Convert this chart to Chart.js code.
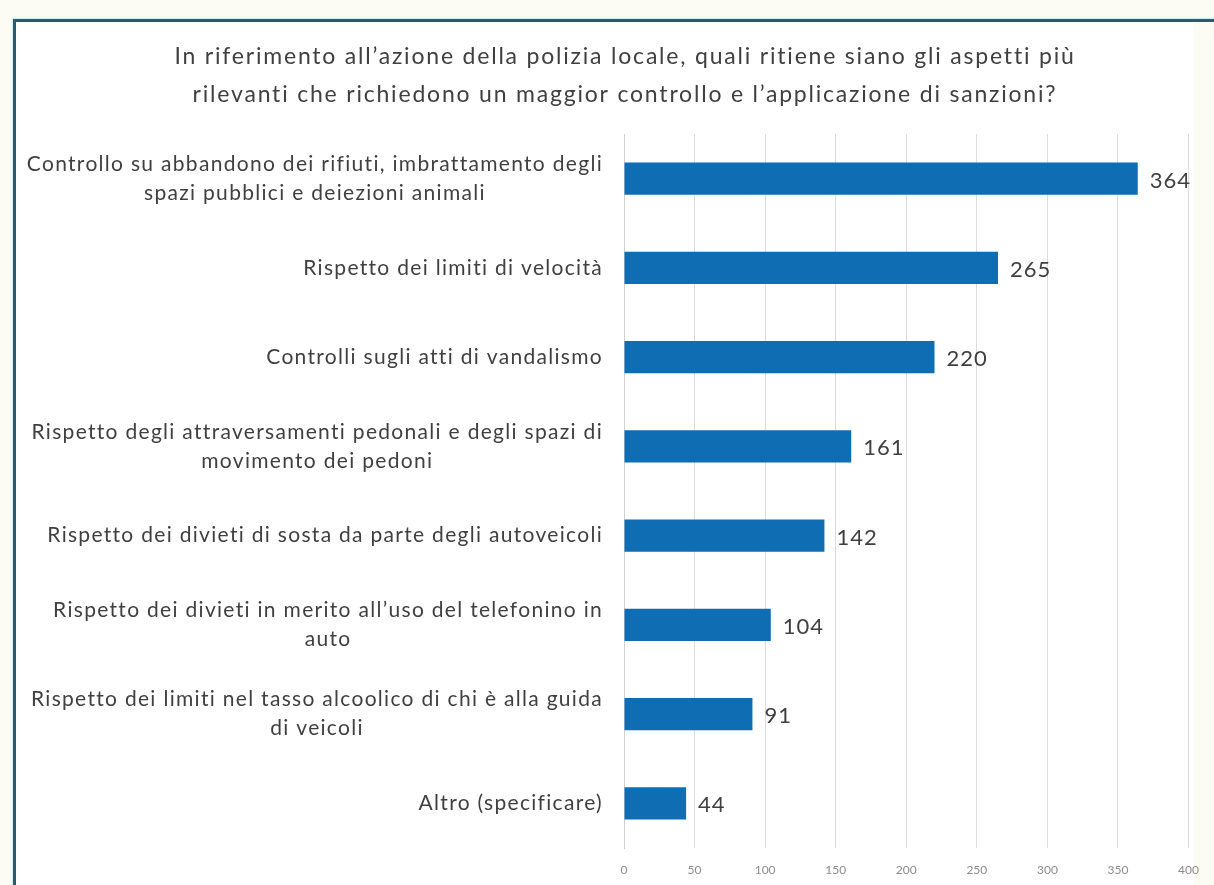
<!DOCTYPE html>
<html>
<head>
<meta charset="utf-8">
<script src="https://cdn.jsdelivr.net/npm/chart.js"></script>
<style>
  html, body {
    margin: 0;
    padding: 0;
    background: #fdfcf4;
    overflow: hidden;
  }
  #frame {
    position: absolute;
    left: 13px;
    top: 19px;
    width: 1240px;
    height: 900px;
    border-left: 3px solid #2c5a68;
    border-top: 3px solid #2c5a68;
    box-shadow: -1px -1px 2px #bfeef5;
    background: linear-gradient(to right, #ffffff 1178px, #fdfcf4 1178px);
  }
  #wrap {
    position: absolute;
    left: 0;
    top: 0;
    width: 1214px;
    height: 885px;
  }
</style>
</head>
<body>
<div id="frame"></div>
<div id="wrap"><canvas id="chart"></canvas></div>

<script>
const titleLines = [
  "In riferimento all\u2019azione della polizia locale, quali ritiene siano gli aspetti più",
  "rilevanti che richiedono un maggior controllo e l\u2019applicazione di sanzioni?"
];

const categories = [
  ["Controllo su abbandono dei rifiuti, imbrattamento degli", "spazi pubblici e deiezioni animali"],
  ["Rispetto dei limiti di velocità"],
  ["Controlli sugli atti di vandalismo"],
  ["Rispetto degli attraversamenti pedonali e degli spazi di", "movimento dei pedoni"],
  ["Rispetto dei divieti di sosta da parte degli autoveicoli"],
  ["Rispetto dei divieti in merito all\u2019uso del telefonino in", "auto"],
  ["Rispetto dei limiti nel tasso alcoolico di chi è alla guida", "di veicoli"],
  ["Altro (specificare)"]
];

const responses = [364, 265, 220, 161, 142, 104, 91, 44];

const axisMin = 0;
const axisMax = 400;
const axisStep = 50;

const textColor = '#404040';
const fontFamily = 'Lato, "Open Sans", sans-serif';

// two-line title, drawn by hand so the letters can be spaced out
const titleText = {
  id: 'titleText',
  afterDraw(chart) {
    const c = chart.ctx;
    c.save();
    c.font = '23px ' + fontFamily;
    c.letterSpacing = '1.8px';
    c.fillStyle = textColor;
    c.textAlign = 'center';
    c.textBaseline = 'middle';
    titleLines.forEach((line, i) => c.fillText(line, 625, 57 + i * 38));
    c.restore();
  }
};

// category names: block right-aligned to the axis, lines centred on each other
const categoryText = {
  id: 'categoryText',
  afterDraw(chart) {
    const c = chart.ctx;
    const yScale = chart.scales.y;
    const right = chart.chartArea.left - 21;
    const lineGap = 29;
    c.save();
    c.font = '21px ' + fontFamily;
    c.letterSpacing = '1.3px';
    c.fillStyle = textColor;
    c.textAlign = 'center';
    c.textBaseline = 'middle';
    chart.data.labels.forEach((lines, i) => {
      const y = yScale.getPixelForValue(i);
      const widest = Math.max(...lines.map(l => c.measureText(l).width));
      const cx = right - widest / 2;
      const top = y - (lines.length - 1) * lineGap / 2;
      lines.forEach((l, j) => c.fillText(l, cx, top + j * lineGap));
    });
    c.restore();
  }
};

// writes the value just past the end of each bar
const valueLabels = {
  id: 'valueLabels',
  afterDatasetsDraw(chart) {
    const c = chart.ctx;
    const meta = chart.getDatasetMeta(0);
    c.save();
    c.font = '22px ' + fontFamily;
    c.letterSpacing = '1px';
    c.fillStyle = textColor;
    c.textAlign = 'left';
    c.textBaseline = 'middle';
    meta.data.forEach((bar, i) => {
      c.fillText(chart.data.datasets[0].data[i], bar.x + 12, bar.y + 2);
    });
    c.restore();
  }
};

const ctx = document.getElementById('chart').getContext('2d');

new Chart(ctx, {
  type: 'bar',
  data: {
    labels: categories,
    datasets: [{
      data: responses,
      backgroundColor: '#0f6db3',
      borderWidth: 0,
      barPercentage: 0.36,
      categoryPercentage: 1
    }]
  },
  plugins: [titleText, categoryText, valueLabels],
  options: {
    indexAxis: 'y',
    responsive: true,
    maintainAspectRatio: false,
    animation: false,
    layout: {
      padding: { left: 0, right: 24, top: 134, bottom: 0 }
    },
    plugins: {
      legend: { display: false },
      tooltip: { enabled: false },
      title: { display: false }
    },
    scales: {
      x: {
        min: axisMin,
        max: axisMax,
        ticks: {
          stepSize: axisStep,
          color: '#8c8c8c',
          font: { family: fontFamily, size: 12 },
          padding: 15
        },
        grid: {
          color: '#dcdcdc',
          drawTicks: false
        },
        border: { display: false },
        afterFit(scale) { scale.height = 37; }
      },
      y: {
        ticks: { display: false },
        grid: { display: false, drawTicks: false },
        border: { display: true, color: '#d0d0d0' },
        afterFit(scale) { scale.width = 624; }
      }
    }
  }
});
</script>
</body>
</html>
